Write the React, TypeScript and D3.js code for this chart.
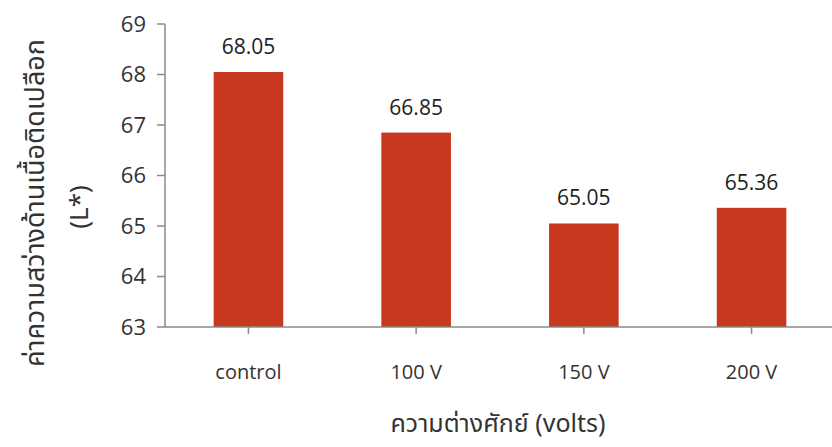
import React from "react";
import * as d3 from "d3";

const categories = ["control", "100 V", "150 V", "200 V"];
const values = [68.05, 66.85, 65.05, 65.36];
const valueLabels = ["68.05", "66.85", "65.05", "65.36"];
const yTicks = [63, 64, 65, 66, 67, 68, 69];

export default function App() {
  const W = 832, H = 447;
  const left = 165, right = 835, top = 24, bottom = 327;
  const x = d3.scaleBand<string>().domain(categories).range([left, right]).paddingInner(0.585).paddingOuter(0.29);
  const y = d3.scaleLinear().domain([63, 69]).range([bottom, top]);
  const font = "'Open Sans', Lato, sans-serif";
  const thai = "'Noto Sans Thai', 'Noto Sans', 'Open Sans', sans-serif";
  const axisColor = "#8a8a8a";
  return (
    <svg width={W} height={H} style={{ position: "absolute", left: 0, top: 0, background: "#fff" }}>
      {/* y axis */}
      <line x1={left} x2={left} y1={top} y2={bottom} stroke={axisColor} strokeWidth={1.5} />
      {yTicks.map((t) => (
        <g key={t}>
          <line x1={left - 8} x2={left} y1={y(t)} y2={y(t)} stroke={axisColor} strokeWidth={1.5} />
          <text x={146} y={y(t)} dy="0.36em" textAnchor="end" fontFamily={font} fontSize={22} fill="#333">
            {t}
          </text>
        </g>
      ))}
      {/* bars */}
      {categories.map((c, i) => (
        <g key={c}>
          <rect x={x(c)} y={y(values[i])} width={x.bandwidth()} height={bottom - y(values[i])} fill="#c8381f" />
          <text x={(x(c) as number) + x.bandwidth() / 2} y={y(values[i]) - 18} textAnchor="middle" fontFamily={font} fontSize={21} fill="#222">
            {valueLabels[i]}
          </text>
          <line x1={(x(c) as number) + x.bandwidth() / 2} x2={(x(c) as number) + x.bandwidth() / 2} y1={bottom} y2={bottom + 7} stroke={axisColor} strokeWidth={1.5} />
          <text x={(x(c) as number) + x.bandwidth() / 2} y={379} textAnchor="middle" fontFamily={font} fontSize={20} fill="#333">
            {c}
          </text>
        </g>
      ))}
      {/* x axis */}
      <line x1={left} x2={right} y1={bottom} y2={bottom} stroke={axisColor} strokeWidth={1.5} />
      {/* axis titles */}
      <text x={498} y={432} textAnchor="middle" fontFamily={thai} fontSize={25} fill="#333">
        ความต่างศักย์ (volts)
      </text>
      <text transform="translate(44,203) rotate(-90)" textAnchor="middle" fontFamily={thai} fontSize={27} fill="#333">
        ค่าความสว่างด้านเนื้อติดเปลือก
      </text>
      <text transform="translate(88,207) rotate(-90)" textAnchor="middle" fontFamily={thai} fontSize={26} fill="#333">
        (L*)
      </text>
    </svg>
  );
}
